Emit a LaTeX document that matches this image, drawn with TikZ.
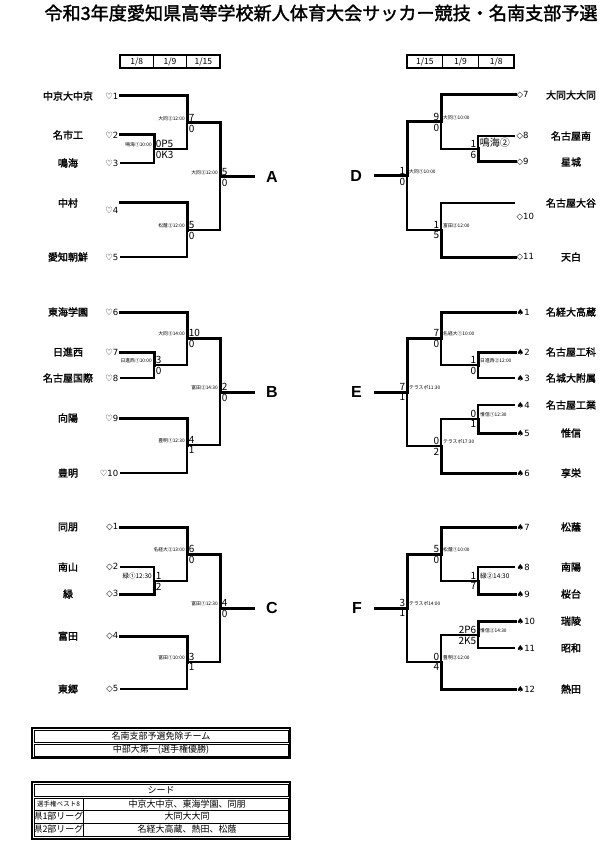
\documentclass[tikz,border=0pt]{standalone}
\usepackage{fontspec}
\usetikzlibrary{positioning}
\newfontfamily\jp{Noto Sans CJK JP}
\newfontfamily\jpb[FakeBold=1.8]{Noto Sans CJK JP}
\newfontfamily\sym{DejaVu Sans}
\newfontfamily\lat{Liberation Sans}

\begin{document}
\begin{tikzpicture}[x=1pt, y=-1pt,
    win/.style={line width=3pt, line cap=rect},
    lose/.style={line width=2.4pt},
    team/.style={font=\jpb\fontsize{10}{12}\selectfont},
    seed/.style={font=\sym\fontsize{8.5}{9}\selectfont, inner sep=1.5pt},
    sc/.style={font=\jp\fontsize{10}{11}\selectfont, inner sep=1.6pt},
    vn/.style={font=\jp\fontsize{4.8}{5}\selectfont, inner sep=2pt},
    vnbig/.style={font=\jp\fontsize{6.5}{7}\selectfont, inner sep=2pt},
    blk/.style={font=\lat\bfseries\fontsize{16}{18}\selectfont, inner sep=0pt},
    datebox/.style={draw, line width=1.3pt, minimum height=13pt, inner sep=0pt, font=\jp\fontsize{8.5}{9}\selectfont},
    cell/.style={font=\jp\fontsize{9}{10}\selectfont, inner sep=0pt}]
    \useasboundingbox (0,0) rectangle (614,850);

    % Title
    \node[font=\jpb\fontsize{18.1}{20}\selectfont] (title) at (321,13) {令和3年度愛知県高等学校新人体育大会サッカー競技・名南支部予選};

    % Date boxes
    \node[datebox, minimum width=33.3pt] (hA1) at (136.7,61.5) {1/8};
    \node[datebox, minimum width=33.3pt] (hA2) at (170,61.5) {1/9};
    \node[datebox, minimum width=33.3pt] (hA3) at (203.3,61.5) {1/15};
    \node[datebox, minimum width=35.7pt] (hD1) at (424.8,61.5) {1/15};
    \node[datebox, minimum width=35.7pt] (hD2) at (460.5,61.5) {1/9};
    \node[datebox, minimum width=35.7pt] (hD3) at (496.2,61.5) {1/8};

    % Block A
    \coordinate (a1) at (120,96);
    \coordinate (a2) at (120,135);
    \coordinate (a3) at (120,163);
    \coordinate (a4) at (120,203);
    \coordinate (a5) at (120,257);
    \node[seed, left] (ka1) at (a1) {♡1};
    \node[seed, left] (ka2) at (a2) {♡2};
    \node[seed, left] (ka3) at (a3) {♡3};
    \node[seed, left] (ka4) at (120,210) {♡4};
    \node[seed, left] (ka5) at (a5) {♡5};
    \node[team] (na1) at (68,96) {中京大中京};
    \node[team] (na2) at (68,135) {名市工};
    \node[team] (na3) at (68,163) {鳴海};
    \node[team] (na4) at (68,203) {中村};
    \node[team] (na5) at (68,257) {愛知朝鮮};
    \coordinate (am1) at (154,149);
    \coordinate (am2) at (187,123);
    \coordinate (am3) at (187,230);
    \coordinate (amF) at (220,177);
    \coordinate (aX) at (253,177);
    \node[blk, right=13pt of aX] (A) {A};
    \draw[win] (a2) -| (am1);
    \draw[lose] (a3) -| (am1);
    \draw[win] (a1) -| (am2);
    \draw[lose] (am1) -| (am2);
    \draw[win] (a4) -| (am3);
    \draw[lose] (a5) -| (am3);
    \draw[win] (am2) -| (amF);
    \draw[lose] (am3) -| (amF);
    \draw[win] (amF) -- (aX);
    \node[sc, above right] (sa1t) at (am1) {0P5};
    \node[sc, below right] (sa1b) at (am1) {0K3};
    \node[vn, above left] (va1) at (am1) {鳴海①10:00};
    \node[sc, above right] (sa2t) at (am2) {7};
    \node[sc, below right] (sa2b) at (am2) {0};
    \node[vn, above left] (va2) at (am2) {大同②12:00};
    \node[sc, above right] (sa3t) at (am3) {5};
    \node[sc, below right] (sa3b) at (am3) {0};
    \node[vn, above left] (va3) at (am3) {松蔭②12:00};
    \node[sc, above right] (saFt) at (amF) {5};
    \node[sc, below right] (saFb) at (amF) {0};
    \node[vn, above left] (vaF) at (amF) {大同②12:00};

    % Block B
    \coordinate (b6) at (120,312);
    \coordinate (b7) at (120,352);
    \coordinate (b8) at (120,378);
    \coordinate (b9) at (120,418);
    \coordinate (b10) at (120,473);
    \node[seed, left] (kb6) at (b6) {♡6};
    \node[seed, left] (kb7) at (b7) {♡7};
    \node[seed, left] (kb8) at (b8) {♡8};
    \node[seed, left] (kb9) at (b9) {♡9};
    \node[seed, left] (kb10) at (b10) {♡10};
    \node[team] (nb6) at (68,312) {東海学園};
    \node[team] (nb7) at (68,352) {日進西};
    \node[team] (nb8) at (68,378) {名古屋国際};
    \node[team] (nb9) at (68,418) {向陽};
    \node[team] (nb10) at (68,473) {豊明};
    \coordinate (bm1) at (154,365);
    \coordinate (bm2) at (187,338);
    \coordinate (bm3) at (187,445);
    \coordinate (bmF) at (220,392);
    \coordinate (bX) at (253,392);
    \node[blk, right=13pt of bX] (B) {B};
    \draw[win] (b7) -| (bm1);
    \draw[lose] (b8) -| (bm1);
    \draw[win] (b6) -| (bm2);
    \draw[lose] (bm1) -| (bm2);
    \draw[win] (b9) -| (bm3);
    \draw[lose] (b10) -| (bm3);
    \draw[win] (bm2) -| (bmF);
    \draw[lose] (bm3) -| (bmF);
    \draw[win] (bmF) -- (bX);
    \node[sc, above right] (sb1t) at (bm1) {3};
    \node[sc, below right] (sb1b) at (bm1) {0};
    \node[vn, above left] (vb1) at (bm1) {日進西①10:00};
    \node[sc, above right] (sb2t) at (bm2) {10};
    \node[sc, below right] (sb2b) at (bm2) {0};
    \node[vn, above left] (vb2) at (bm2) {大同③14:00};
    \node[sc, above right] (sb3t) at (bm3) {4};
    \node[sc, below right] (sb3b) at (bm3) {1};
    \node[vn, above left] (vb3) at (bm3) {豊明①12:30};
    \node[sc, above right] (sbFt) at (bmF) {2};
    \node[sc, below right] (sbFb) at (bmF) {0};
    \node[vn, above left] (vbF) at (bmF) {富田②14:30};

    % Block C
    \coordinate (c1) at (120,527);
    \coordinate (c2) at (120,567);
    \coordinate (c3) at (120,594);
    \coordinate (c4) at (120,636);
    \coordinate (c5) at (120,689);
    \node[seed, left] (kc1) at (c1) {◇1};
    \node[seed, left] (kc2) at (c2) {◇2};
    \node[seed, left] (kc3) at (c3) {◇3};
    \node[seed, left] (kc4) at (c4) {◇4};
    \node[seed, left] (kc5) at (c5) {◇5};
    \node[team] (nc1) at (68,527) {同朋};
    \node[team] (nc2) at (68,567) {南山};
    \node[team] (nc3) at (68,594) {緑};
    \node[team] (nc4) at (68,636) {富田};
    \node[team] (nc5) at (68,689) {東郷};
    \coordinate (cm1) at (154,581);
    \coordinate (cm2) at (187,554);
    \coordinate (cm3) at (187,662);
    \coordinate (cmF) at (220,608);
    \coordinate (cX) at (253,608);
    \node[blk, right=13pt of cX] (C) {C};
    \draw[lose] (c2) -| (cm1);
    \draw[win] (c3) -| (cm1);
    \draw[win] (c1) -| (cm2);
    \draw[lose] (cm1) -| (cm2);
    \draw[win] (c4) -| (cm3);
    \draw[lose] (c5) -| (cm3);
    \draw[win] (cm2) -| (cmF);
    \draw[lose] (cm3) -| (cmF);
    \draw[win] (cmF) -- (cX);
    \node[sc, above right] (sc1t) at (cm1) {1};
    \node[sc, below right] (sc1b) at (cm1) {2};
    \node[vnbig, above left] (vc1) at (cm1) {緑①12:30};
    \node[sc, above right] (sc2t) at (cm2) {6};
    \node[sc, below right] (sc2b) at (cm2) {0};
    \node[vn, above left] (vc2) at (cm2) {名経大②13:00};
    \node[sc, above right] (sc3t) at (cm3) {3};
    \node[sc, below right] (sc3b) at (cm3) {1};
    \node[vn, above left] (vc3) at (cm3) {富田①10:00};
    \node[sc, above right] (scFt) at (cmF) {4};
    \node[sc, below right] (scFb) at (cmF) {0};
    \node[vn, above left] (vcF) at (cmF) {富田①12:30};

    % Block D
    \coordinate (d7) at (515,95);
    \coordinate (d8) at (515,136);
    \coordinate (d9) at (515,162);
    \coordinate (d10) at (515,203);
    \coordinate (d11) at (515,257);
    \node[seed, right] (kd7) at (d7) {◇7};
    \node[seed, right] (kd8) at (d8) {◇8};
    \node[seed, right] (kd9) at (d9) {◇9};
    \node[seed, right] (kd10) at (515,217) {◇10};
    \node[seed, right] (kd11) at (d11) {◇11};
    \node[team] (nd7) at (571,95) {大同大大同};
    \node[team] (nd8) at (571,136) {名古屋南};
    \node[team] (nd9) at (571,162) {星城};
    \node[team] (nd10) at (571,203) {名古屋大谷};
    \node[team] (nd11) at (571,257) {天白};
    \coordinate (dm1) at (478,149);
    \coordinate (dm2) at (441,122);
    \coordinate (dm3) at (441,230);
    \coordinate (dmF) at (407,176);
    \coordinate (dX) at (375,176);
    \node[blk, left=13pt of dX] (D) {D};
    \draw[lose] (d8) -| (dm1);
    \draw[win] (d9) -| (dm1);
    \draw[win] (d7) -| (dm2);
    \draw[lose] (dm1) -| (dm2);
    \draw[lose] (d10) -| (dm3);
    \draw[win] (d11) -| (dm3);
    \draw[win] (dm2) -| (dmF);
    \draw[lose] (dm3) -| (dmF);
    \draw[win] (dmF) -- (dX);
    \node[sc, above left] (sd1t) at (dm1) {1};
    \node[sc, below left] (sd1b) at (dm1) {6};
    \node[sc, above right] (vd1) at (dm1) {鳴海②};
    \node[sc, above left] (sd2t) at (dm2) {9};
    \node[sc, below left] (sd2b) at (dm2) {0};
    \node[vn, above right] (vd2) at (dm2) {大同①10:00};
    \node[sc, above left] (sd3t) at (dm3) {1};
    \node[sc, below left] (sd3b) at (dm3) {5};
    \node[vn, above right] (vd3) at (dm3) {富田②12:00};
    \node[sc, above left] (sdFt) at (dmF) {1};
    \node[sc, below left] (sdFb) at (dmF) {0};
    \node[vn, above right] (vdF) at (dmF) {大同①10:00};

    % Block E
    \coordinate (e1) at (515,312);
    \coordinate (e2) at (515,352);
    \coordinate (e3) at (515,378);
    \coordinate (e4) at (515,405);
    \coordinate (e5) at (515,433);
    \coordinate (e6) at (515,473);
    \node[seed, right] (ke1) at (e1) {♠1};
    \node[seed, right] (ke2) at (e2) {♠2};
    \node[seed, right] (ke3) at (e3) {♠3};
    \node[seed, right] (ke4) at (e4) {♠4};
    \node[seed, right] (ke5) at (e5) {♠5};
    \node[seed, right] (ke6) at (e6) {♠6};
    \node[team] (ne1) at (571,312) {名経大高蔵};
    \node[team] (ne2) at (571,352) {名古屋工科};
    \node[team] (ne3) at (571,378) {名城大附属};
    \node[team] (ne4) at (571,405) {名古屋工業};
    \node[team] (ne5) at (571,433) {惟信};
    \node[team] (ne6) at (571,473) {享栄};
    \coordinate (em1) at (478,365);
    \coordinate (em2) at (441,338);
    \coordinate (em3) at (478,419);
    \coordinate (em4) at (441,446);
    \coordinate (emF) at (407,392);
    \coordinate (eX) at (375,392);
    \node[blk, left=13pt of eX] (E) {E};
    \draw[win] (e2) -| (em1);
    \draw[lose] (e3) -| (em1);
    \draw[win] (e1) -| (em2);
    \draw[lose] (em1) -| (em2);
    \draw[lose] (e4) -| (em3);
    \draw[win] (e5) -| (em3);
    \draw[lose] (em3) -| (em4);
    \draw[win] (e6) -| (em4);
    \draw[win] (em2) -| (emF);
    \draw[lose] (em4) -| (emF);
    \draw[win] (emF) -- (eX);
    \node[sc, above left] (se1t) at (em1) {1};
    \node[sc, below left] (se1b) at (em1) {0};
    \node[vn, above right] (ve1) at (em1) {日進西②12:00};
    \node[sc, above left] (se2t) at (em2) {7};
    \node[sc, below left] (se2b) at (em2) {0};
    \node[vn, above right] (ve2) at (em2) {名経大①10:00};
    \node[sc, above left] (se3t) at (em3) {0};
    \node[sc, below left] (se3b) at (em3) {1};
    \node[vn, above right] (ve3) at (em3) {惟信①12:30};
    \node[sc, above left] (se4t) at (em4) {0};
    \node[sc, below left] (se4b) at (em4) {2};
    \node[vn, above right] (ve4) at (em4) {テラスポ17:30};
    \node[sc, above left] (seFt) at (emF) {7};
    \node[sc, below left] (seFb) at (emF) {1};
    \node[vn, above right] (veF) at (emF) {テラスポ11:30};

    % Block F
    \coordinate (f7) at (515,527);
    \coordinate (f8) at (515,567);
    \coordinate (f9) at (515,594);
    \coordinate (f10) at (515,621);
    \coordinate (f11) at (515,648);
    \coordinate (f12) at (515,689);
    \node[seed, right] (kf7) at (f7) {♠7};
    \node[seed, right] (kf8) at (f8) {♠8};
    \node[seed, right] (kf9) at (f9) {♠9};
    \node[seed, right] (kf10) at (f10) {♠10};
    \node[seed, right] (kf11) at (f11) {♠11};
    \node[seed, right] (kf12) at (f12) {♠12};
    \node[team] (nf7) at (571,527) {松蔭};
    \node[team] (nf8) at (571,567) {南陽};
    \node[team] (nf9) at (571,594) {桜台};
    \node[team] (nf10) at (571,621) {瑞陵};
    \node[team] (nf11) at (571,648) {昭和};
    \node[team] (nf12) at (571,689) {熱田};
    \coordinate (fm1) at (478,581);
    \coordinate (fm2) at (441,554);
    \coordinate (fm3) at (478,635);
    \coordinate (fm4) at (441,662);
    \coordinate (fmF) at (407,608);
    \coordinate (fX) at (375,608);
    \node[blk, left=13pt of fX] (F) {F};
    \draw[lose] (f8) -| (fm1);
    \draw[win] (f9) -| (fm1);
    \draw[win] (f7) -| (fm2);
    \draw[lose] (fm1) -| (fm2);
    \draw[win] (f10) -| (fm3);
    \draw[lose] (f11) -| (fm3);
    \draw[lose] (fm3) -| (fm4);
    \draw[win] (f12) -| (fm4);
    \draw[win] (fm2) -| (fmF);
    \draw[lose] (fm4) -| (fmF);
    \draw[win] (fmF) -- (fX);
    \node[sc, above left] (sf1t) at (fm1) {1};
    \node[sc, below left] (sf1b) at (fm1) {7};
    \node[vnbig, above right] (vf1) at (fm1) {緑②14:30};
    \node[sc, above left] (sf2t) at (fm2) {5};
    \node[sc, below left] (sf2b) at (fm2) {0};
    \node[vn, above right] (vf2) at (fm2) {松蔭①10:00};
    \node[sc, above left] (sf3t) at (fm3) {2P6};
    \node[sc, below left] (sf3b) at (fm3) {2K5};
    \node[vn, above right] (vf3) at (fm3) {惟信②14:30};
    \node[sc, above left] (sf4t) at (fm4) {0};
    \node[sc, below left] (sf4b) at (fm4) {4};
    \node[vn, above right] (vf4) at (fm4) {豊明②12:00};
    \node[sc, above left] (sfFt) at (fmF) {3};
    \node[sc, below left] (sfFb) at (fmF) {1};
    \node[vn, above right] (vfF) at (fmF) {テラスポ14:00};

    % Tables
    \draw[line width=1.4pt] (32,728) rectangle (290,758);
    \draw[line width=1pt] (34,730) rectangle (288,742);
    \draw[line width=1pt] (34,744) rectangle (288,756);
    \node[cell] (t1a) at (161,736) {名南支部予選免除チーム};
    \node[cell] (t1b) at (161,750) {中部大第一(選手権優勝)};
    \draw[line width=1.4pt] (32,782) rectangle (290,839);
    \draw[line width=1pt] (34,784) rectangle (288,796);
    \draw[line width=1pt] (34,798) rectangle (288,836);
    \draw[line width=1pt] (83,798) -- (83,836);
    \draw[line width=1pt] (34,810) -- (288,810);
    \draw[line width=1pt] (34,823) -- (288,823);
    \node[cell] (t2h) at (161,790) {シード};
    \node[cell, font=\jp\fontsize{6.5}{7}\selectfont] (t2a) at (58.5,804) {選手権ベスト8};
    \node[cell] (t2b) at (58.5,816.5) {県1部リーグ};
    \node[cell] (t2c) at (58.5,829.5) {県2部リーグ};
    \node[cell] (t2d) at (187,804) {中京大中京、東海学園、同朋};
    \node[cell] (t2e) at (187,816.5) {大同大大同};
    \node[cell] (t2f) at (187,829.5) {名経大高蔵、熱田、松蔭};
\end{tikzpicture}
\end{document}
